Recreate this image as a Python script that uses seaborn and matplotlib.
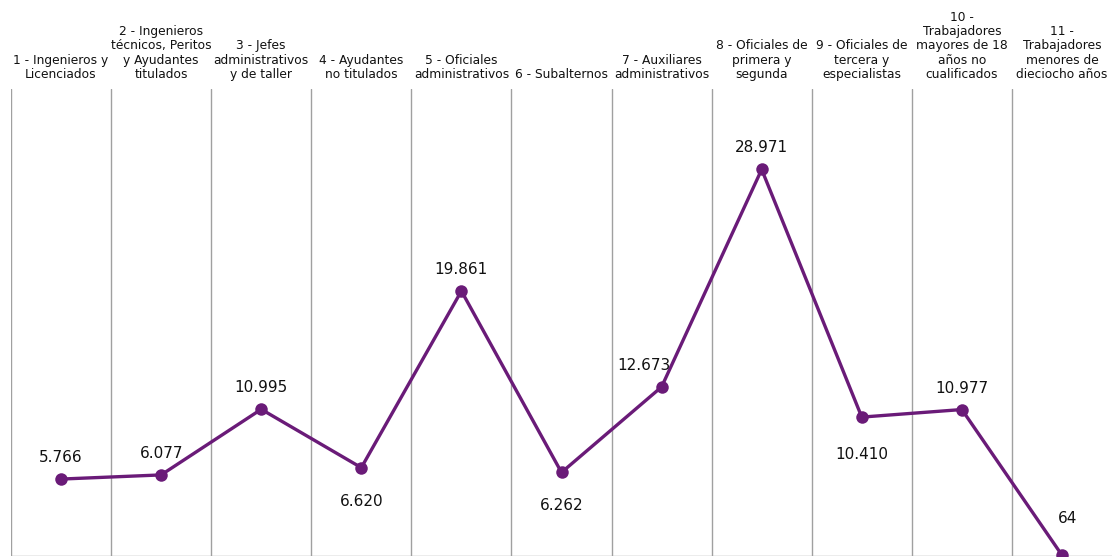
import matplotlib
matplotlib.use("Agg")
import matplotlib.pyplot as plt
import seaborn as sns
import pandas as pd

categories = [
    "1 - Ingenieros y\nLicenciados",
    "2 - Ingenieros\ntécnicos, Peritos\ny Ayudantes\ntitulados",
    "3 - Jefes\nadministrativos\ny de taller",
    "4 - Ayudantes\nno titulados",
    "5 - Oficiales\nadministrativos",
    "6 - Subalternos",
    "7 - Auxiliares\nadministrativos",
    "8 - Oficiales de\nprimera y\nsegunda",
    "9 - Oficiales de\ntercera y\nespecialistas",
    "10 -\nTrabajadores\nmayores de 18\naños no\ncualificados",
    "11 -\nTrabajadores\nmenores de\ndieciocho años",
]
values = [5766, 6077, 10995, 6620, 19861, 6262, 12673, 28971, 10410, 10977, 64]
label_below = [False, False, False, True, False, True, False, False, True, False, False]

sns.set_style("white")
plt.rcParams["font.family"] = ["DejaVu Sans"]

color = "#6a1b78"
df = pd.DataFrame({"x": range(len(values)), "v": values})

fig = plt.figure(figsize=(11.12, 5.57), dpi=100)
ax = fig.add_axes([11 / 1112, 1 / 557, 1 - 11 / 1112, (556 - 89) / 557])

sns.lineplot(data=df, x="x", y="v", ax=ax, color=color, linewidth=2.4,
             marker="o", markersize=9, markeredgewidth=0, clip_on=False, zorder=3)

ax.set_xlim(-0.5, len(values) - 0.5)
ax.set_ylim(0, 35000)
for i in range(len(values)):
    ax.axvline(i - 0.5, color="#a0a0a0", linewidth=1, zorder=1)
ax.axhline(0, color="#a0a0a0", linewidth=1, zorder=1)

for s in ax.spines.values():
    s.set_visible(False)
ax.set_xticks([])
ax.set_yticks([])
ax.set_xlabel("")
ax.set_ylabel("")

def fmt(v):
    return f"{v:,}".replace(",", ".")

for i, (v, below) in enumerate(zip(values, label_below)):
    dx = 0
    dy_up = 14
    dy_down = -26
    if i == 6:
        dx = -18
    if i == 10:
        dx = 6
        dy_up = 29
    if i == 8:
        dy_down = -30
    if below:
        ax.annotate(fmt(v), (i, v), xytext=(dx, dy_down), textcoords="offset pixels",
                    ha="center", va="top", fontsize=11, color="#111111")
    else:
        ax.annotate(fmt(v), (i, v), xytext=(dx, dy_up), textcoords="offset pixels",
                    ha="center", va="bottom", fontsize=11, color="#111111")

for i, c in enumerate(categories):
    x_ax = (i + 0.5) / len(values)
    ax.text(x_ax, 1 + 8 / 467, c, transform=ax.transAxes, ha="center", va="bottom",
            fontsize=8.8, linespacing=1.13, color="#111111")

fig.savefig("out.png", dpi=100)
